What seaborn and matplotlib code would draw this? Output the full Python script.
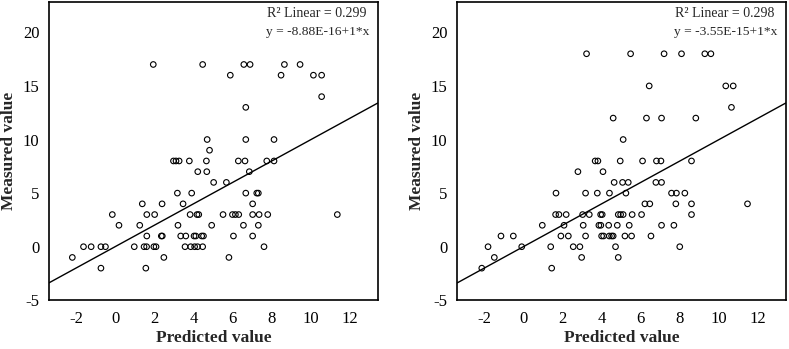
import matplotlib
matplotlib.use("Agg")
import matplotlib.pyplot as plt
import seaborn as sns
import numpy as np

# left panel: predicted vs measured
pred_left = [1.95, 4.47, 6.57, 6.89, 8.64, 9.44,
             5.88, 8.47, 10.12, 10.54,
             10.54,
             6.67,
             4.70, 6.67, 8.11,
             4.82,
             2.98, 3.11, 3.27, 3.79, 4.66, 6.29, 6.63, 7.74, 8.11,
             4.22, 4.68, 6.85,
             5.03, 5.68,
             3.18, 3.91, 6.67, 7.23, 7.31,
             1.39, 2.40, 3.47, 7.02,
             -0.14, 1.62, 2.02, 3.83, 4.18, 4.27, 5.51, 5.99, 6.14, 6.31, 7.02, 7.35, 7.79, 11.34,
             0.20, 1.26, 3.21, 4.93, 6.55, 7.31,
             1.62, 2.36, 2.41, 3.35, 3.61, 4.03, 4.12, 4.42, 4.51, 6.04, 7.02,
             -1.61, -1.22, -0.72, -0.49, 0.98, 1.48, 1.61, 1.98, 2.09, 3.57, 3.86, 4.06, 4.21, 4.47, 7.60,
             -2.18, 2.49, 5.81,
             -0.72, 1.57]
meas_left = [17, 17, 17, 17, 17, 17,
             16, 16, 16, 16,
             14,
             13,
             10, 10, 10,
             9,
             8, 8, 8, 8, 8, 8, 8, 8, 8,
             7, 7, 7,
             6, 6,
             5, 5, 5, 5, 5,
             4, 4, 4, 4,
             3, 3, 3, 3, 3, 3, 3, 3, 3, 3, 3, 3, 3, 3,
             2, 2, 2, 2, 2, 2,
             1, 1, 1, 1, 1, 1, 1, 1, 1, 1, 1,
             0, 0, 0, 0, 0, 0, 0, 0, 0, 0, 0, 0, 0, 0, 0,
             -1, -1, -1,
             -2, -2]

# right panel
pred_right = [3.23, 5.48, 7.19, 8.08, 9.27, 9.58,
              6.43, 10.34, 10.72,
              10.63,
              4.59, 6.29, 7.06, 8.81,
              5.10,
              3.67, 3.81, 4.95, 6.09, 6.80, 7.03, 8.59,
              2.79, 4.07,
              4.64, 5.07, 5.36, 6.77, 7.06,
              1.67, 3.18, 3.78, 4.40, 5.24, 7.57, 7.82, 8.25,
              6.21, 6.46, 7.79, 8.59, 11.45,
              1.65, 1.82, 2.19, 3.03, 3.37, 3.95, 4.03, 4.85, 4.97, 5.10, 5.56, 6.04, 8.59,
              0.97, 2.08, 3.06, 3.86, 3.96, 4.36, 4.80, 5.41, 7.06, 7.69,
              -1.14, -0.51, 1.92, 2.30, 3.18, 4.00, 4.10, 4.39, 4.51, 4.59, 5.19, 5.53, 6.52,
              -1.80, -0.08, 1.40, 2.55, 2.89, 4.71, 7.99,
              -1.48, 2.98, 4.85,
              -2.12, 1.45]
meas_right = [18, 18, 18, 18, 18, 18,
              15, 15, 15,
              13,
              12, 12, 12, 12,
              10,
              8, 8, 8, 8, 8, 8, 8,
              7, 7,
              6, 6, 6, 6, 6,
              5, 5, 5, 5, 5, 5, 5, 5,
              4, 4, 4, 4, 4,
              3, 3, 3, 3, 3, 3, 3, 3, 3, 3, 3, 3, 3,
              2, 2, 2, 2, 2, 2, 2, 2, 2, 2,
              1, 1, 1, 1, 1, 1, 1, 1, 1, 1, 1, 1, 1,
              0, 0, 0, 0, 0, 0, 0,
              -1, -1, -1,
              -2, -2]

# fit lines from the reference annotation
intercepts = [-8.88e-16, -3.55e-15]
slopes = [1.0, 1.0]
r2_values = [0.299, 0.298]
fit_labels = ["y = -8.88E-16+1*x", "y = -3.55E-15+1*x"]

x_ticks = [-2, 0, 2, 4, 6, 8, 10, 12]
y_ticks = [-5, 0, 5, 10, 15, 20]
x_lim = (-3.37, 13.4)
y_lim = (-5, 22.8)

sns.set_style("white")
plt.rcParams['font.family'] = ['Liberation Serif', 'DejaVu Serif']
plt.rcParams['axes.unicode_minus'] = False

fig = plt.figure(figsize=(7.89, 3.49), dpi=100)
ax_l = fig.add_axes([0.0621, 0.1395, 0.4166, 0.8539])
ax_r = fig.add_axes([0.5796, 0.1395, 0.4162, 0.8539])

panels = [(ax_l, pred_left, meas_left), (ax_r, pred_right, meas_right)]
for i, (ax, px, my) in enumerate(panels):
    sns.scatterplot(x=px, y=my, ax=ax, s=16, facecolor="none",
                    edgecolor="black", linewidth=0.8, marker="o")
    xl = np.array(x_lim)
    sns.lineplot(x=xl, y=intercepts[i] + slopes[i] * xl, ax=ax,
                 color="black", linewidth=1.0)
    ax.set_xlim(x_lim)
    ax.set_ylim(y_lim)
    ax.set_xticks(x_ticks)
    ax.set_yticks(y_ticks)
    ax.tick_params(axis="both", direction="out", length=5, width=0.8,
                   labelsize=12, pad=2, colors="black")
    ax.tick_params(axis="x", pad=3)
    for sp in ax.spines.values():
        sp.set_visible(True)
        sp.set_color("black")
        sp.set_linewidth(1.2)
    ax.set_xlabel("Predicted value", fontsize=12.5, fontweight="bold", labelpad=2)
    ax.set_ylabel("Measured value", fontsize=12.5, fontweight="bold", labelpad=4)
    ax.text(0.664, 0.961, "R² Linear = " + str(r2_values[i]), transform=ax.transAxes,
            ha="left", va="center", fontsize=10)
    ax.text(0.66, 0.900, fit_labels[i], transform=ax.transAxes,
            ha="left", va="center", fontsize=9.7)

fig.savefig("out.png", dpi=100)
